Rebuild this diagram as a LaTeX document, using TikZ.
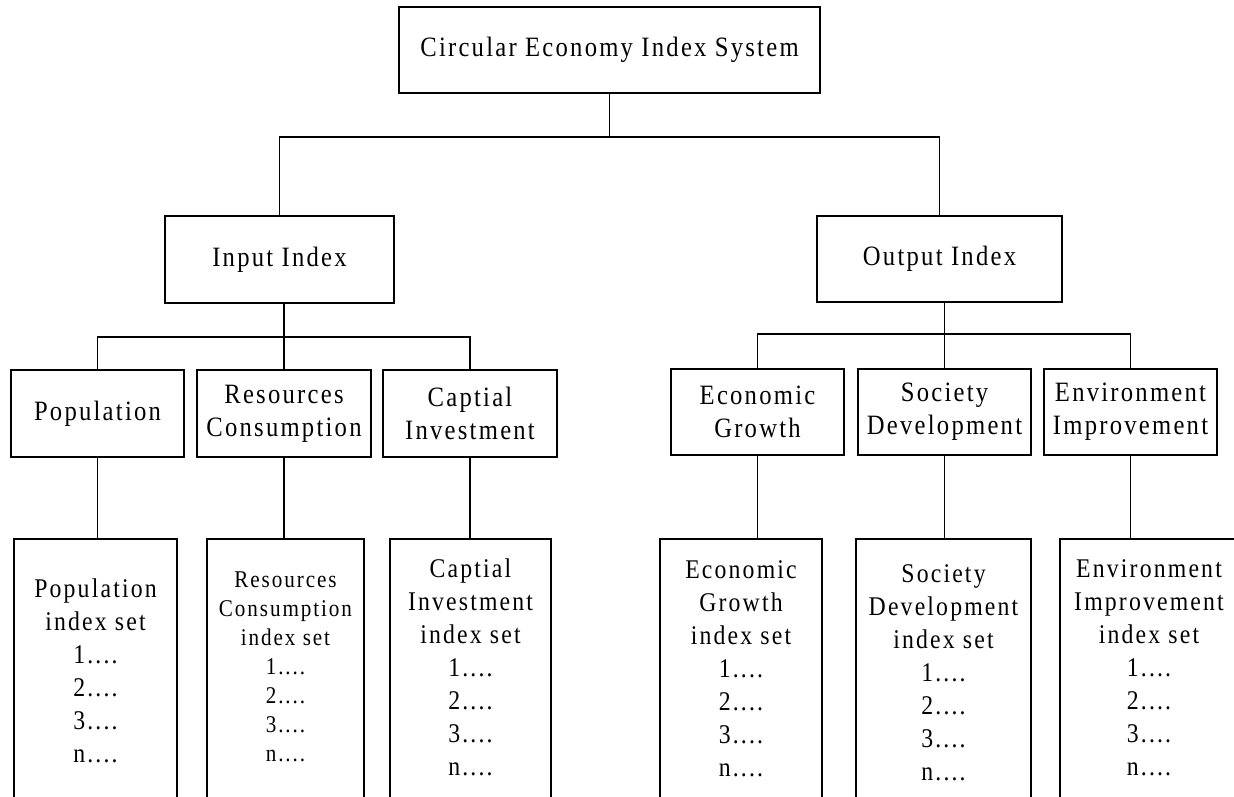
\documentclass[tikz,border=0pt]{standalone}
\usepackage{fontspec}
\setmainfont{Liberation Serif}[FakeStretch=0.88, LetterSpace=8]

\begin{document}
\begin{tikzpicture}[x=0.5pt, y=-0.5pt, line width=0.75pt,
	box/.style={draw, align=center, inner sep=0pt, font=\fontsize{14}{16.5}\selectfont},
	setbox/.style={box, anchor=north, font=\fontsize{13.5}{16.5}\selectfont,
		execute at end node={\\[8pt]\strut}}]
	\useasboundingbox (0,0) rectangle (1234,796);
	\clip (0,0) rectangle (1234,796);

	\node[box, minimum width=210.5pt, minimum height=43pt] (ce) at (609.5,50) {Circular Economy Index System};
	\node[box, minimum width=114.5pt, minimum height=43.5pt] (inp) at (279.5,259.5) {Input Index};
	\node[box, minimum width=122.5pt, minimum height=43pt] (out) at (939.5,259) {Output Index};

	\node[box, minimum width=86.5pt, minimum height=43.5pt] (pop) at (97.5,413.5) {Population};
	\node[box, minimum width=87pt, minimum height=43.5pt] (res) at (284,413.5) {Resources\\Consumption};
	\node[box, minimum width=87pt, minimum height=43.5pt] (cap) at (470,413.5) {Captial\\Investment};
	\node[box, minimum width=86.5pt, minimum height=43pt] (eco) at (757.5,412) {Economic\\Growth};
	\node[box, minimum width=86.5pt, minimum height=43pt] (soc) at (944.5,412) {Society\\Development};
	\node[box, minimum width=86.5pt, minimum height=43pt] (env) at (1130.5,412) {Environment\\Improvement};

	\node[setbox, minimum width=81.5pt, inner ysep=19.8pt] (popset) at (95.5,538) {Population\\index set\\1....\\2....\\3....\\n....};
	\node[setbox, minimum width=78.5pt, inner ysep=16.3pt, font=\fontsize{12}{14.5}\selectfont] (resset) at (285.5,538) {Resources\\Consumption\\index set\\1....\\2....\\3....\\n....};
	\node[setbox, minimum width=80.5pt, inner ysep=9.8pt] (capset) at (470.5,538) {Captial\\Investment\\index set\\1....\\2....\\3....\\n....};
	\node[setbox, minimum width=81pt, inner ysep=10.8pt] (ecoset) at (741,538) {Economic\\Growth\\index set\\1....\\2....\\3....\\n....};
	\node[setbox, minimum width=87.5pt, inner ysep=12.8pt] (socset) at (943.5,538) {Society\\Development\\index set\\1....\\2....\\3....\\n....};
	\node[setbox, minimum width=89pt, inner ysep=10.3pt] (envset) at (1149,538) {Environment\\Improvement\\index set\\1....\\2....\\3....\\n....};

	\coordinate (topbar) at (609.5,137);
	\coordinate (inbar) at (284,337);
	\coordinate (outbar) at (944.5,334);

	\draw (ce.south) -- (topbar);
	\draw (inp.north) |- (topbar) -| (out.north);

	\draw (inp.south -| res.north) -- (res.north);
	\draw (pop.north) |- (inbar) -| (cap.north);
	\draw (out.south -| soc.north) -- (soc.north);
	\draw (eco.north) |- (outbar) -| (env.north);

	\draw (pop.south) -- (pop.south |- popset.north);
	\draw (res.south) -- (res.south |- resset.north);
	\draw (cap.south) -- (cap.south |- capset.north);
	\draw (eco.south) -- (eco.south |- ecoset.north);
	\draw (soc.south) -- (soc.south |- socset.north);
	\draw (env.south) -- (env.south |- envset.north);
\end{tikzpicture}
\end{document}
